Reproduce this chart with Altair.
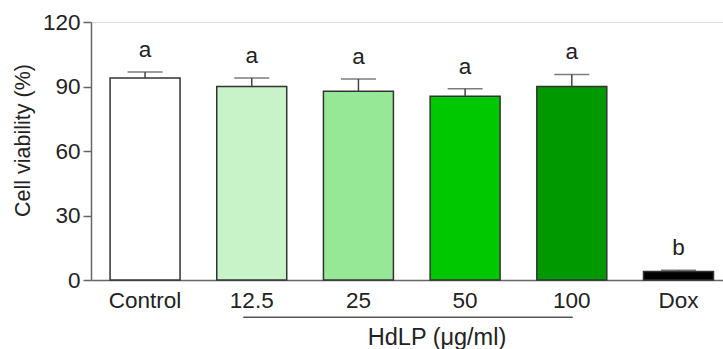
import altair as alt
import pandas as pd

groups = ["Control", "12.5", "25", "50", "100", "Dox"]
means = [94.0, 90.0, 87.8, 85.5, 90.0, 4.0]
errs = [2.8, 4.0, 5.7, 3.4, 5.6, 0.5]
letters = ["a", "a", "a", "a", "a", "b"]
fills = ["#ffffff", "#c8f2c8", "#96e896", "#00c800", "#009a00", "#000000"]

df = pd.DataFrame({
    "group": groups,
    "mean": means,
    "upper": [m + e for m, e in zip(means, errs)],
    "letter": letters,
})

bracket = pd.DataFrame({"start": ["12.5"], "end": ["100"]})

FONT = "Liberation Sans"

xscale = alt.Scale(domain=groups, paddingInner=0.344, paddingOuter=0.134, align=0.667)
x = alt.X("group:N", scale=xscale, sort=groups,
          axis=alt.Axis(title="HdLP (μg/ml)", labelAngle=0, ticks=False,
                        labelFontSize=22.5, labelPadding=9, labelColor="#222",
                        domainColor="#666", domainWidth=1.5,
                        titleFontSize=23.5, titleFontWeight="normal", titleColor="#222",
                        titleX=345.5, titleY=57, titleBaseline="middle", titleAnchor="middle"))
yscale = alt.Scale(domain=[0, 120], nice=False)
y = alt.Y("mean:Q", scale=yscale,
          axis=alt.Axis(title="Cell viability (%)", values=[0, 30, 60, 90, 120], grid=False,
                        tickSize=8, tickColor="#666", tickWidth=1.5,
                        domainColor="#666", domainWidth=1.5,
                        labelFontSize=22.5, labelPadding=3, labelColor="#222",
                        titleFontSize=21.5, titleFontWeight="normal", titleColor="#222",
                        titleX=-68, titleY=118, titleBaseline="middle"))

bars = alt.Chart(df).mark_bar(stroke="#333", strokeWidth=1.5).encode(
    x=x,
    y=y,
    color=alt.Color("group:N", scale=alt.Scale(domain=groups, range=fills), legend=None),
)

err_line = alt.Chart(df).mark_rule(color="#444", strokeWidth=1.5).encode(
    x=alt.X("group:N", scale=xscale, sort=groups),
    y=alt.Y("mean:Q", scale=yscale),
    y2="upper:Q",
)

err_cap = alt.Chart(df).mark_tick(color="#444", size=35, thickness=1.5).encode(
    x=alt.X("group:N", scale=xscale, sort=groups),
    y=alt.Y("upper:Q", scale=yscale),
)

labels = alt.Chart(df).mark_text(fontSize=22.5, baseline="middle", dy=-22, color="#222", font=FONT).encode(
    x=alt.X("group:N", scale=xscale, sort=groups),
    y=alt.Y("upper:Q", scale=yscale),
    text="letter:N",
)

brk = alt.Chart(bracket).mark_rule(color="#555", strokeWidth=1.5, xOffset=-8.5, x2Offset=1).encode(
    x=alt.X("start:N", scale=xscale),
    x2="end:N",
    y=alt.value(295.3),
)

chart = alt.layer(bars, err_line, err_cap, labels, brk).properties(
    width=632, height=258,
    autosize=alt.AutoSizeParams(type="none"),
    padding={"left": 91, "top": 22, "right": 0, "bottom": 69},
).configure_view(stroke=None).configure(font=FONT)

chart.save("out.html", embed_options={"renderer": "svg", "actions": False})
